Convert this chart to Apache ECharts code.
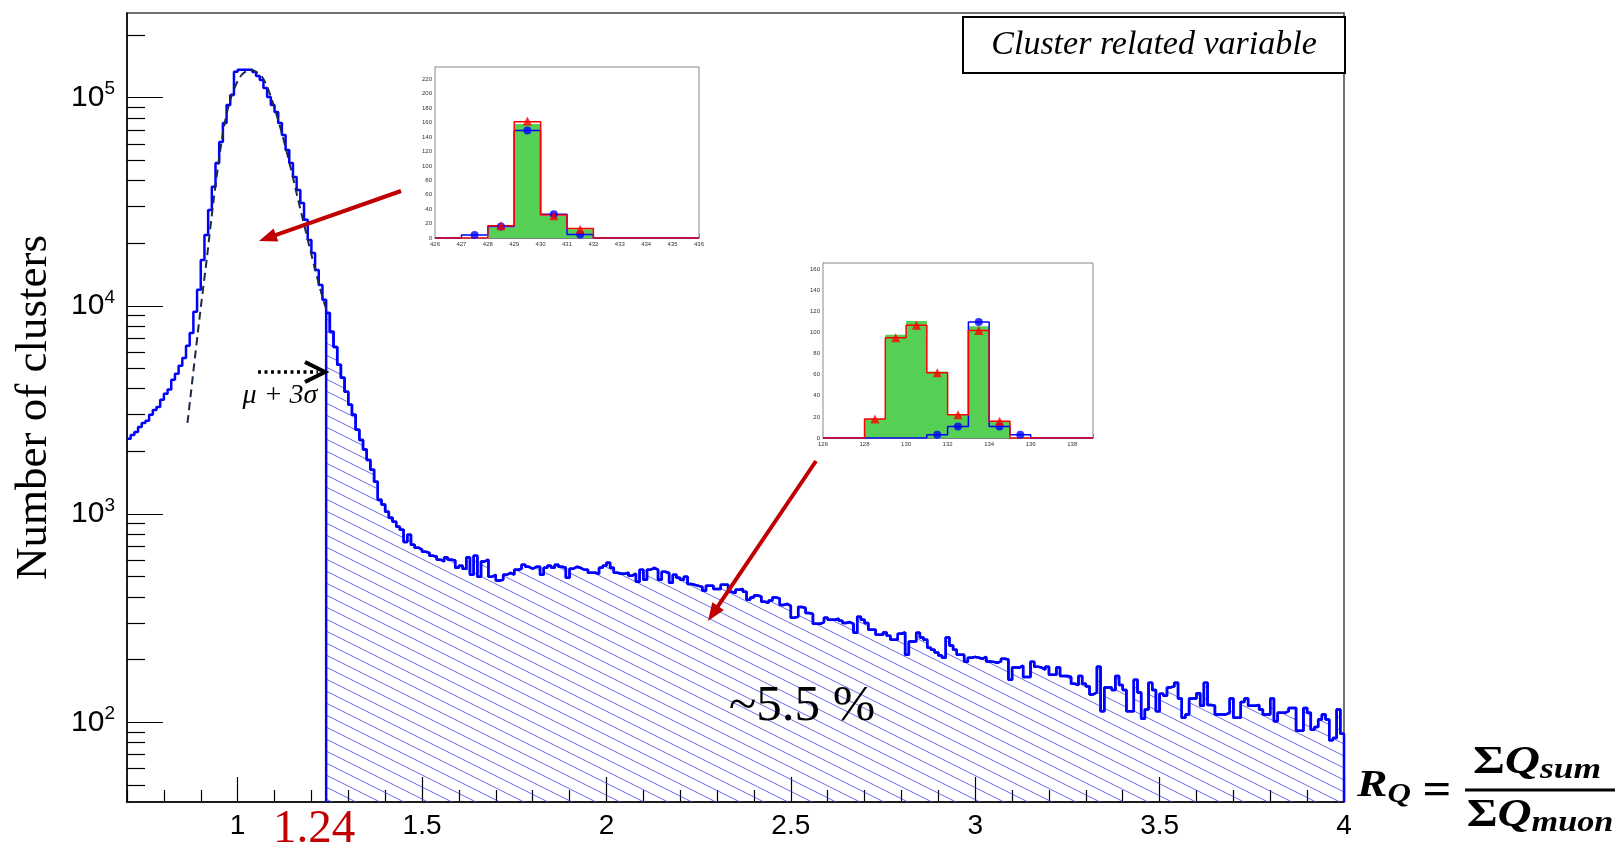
<!DOCTYPE html>
<html><head><meta charset="utf-8">
<script src="https://cdn.jsdelivr.net/npm/echarts@6/dist/echarts.min.js"></script>
<style>html,body{margin:0;padding:0;background:#fff}#c{width:1619px;height:848px}</style>
</head><body><div id="c"></div><script>
// ---------- DATA ----------
const binStart = 0.70;
const binWidth = 0.01;
// Counts per bin (0.70 .. 4.00, width 0.01)
const counts = [
2300,2400,2480,2620,2740,2810,3000,3160,3270,3540,
3780,3960,4420,4720,5160,5620,6430,7410,9360,11950,
16600,21900,28900,37300,48600,61200,75600,92300,103000,133000,
136000,136000,136000,136000,132800,127000,121600,111300,100800,92300,
85400,75600,66200,56100,48600,41600,36000,31200,25900,20700,
17960,14880,12610,10690,9250,7500,6350,5210,4510,3870,
3350,3000,2540,2270,2040,1820,1630,1430,1170,1110,
1026,960,919,869,841,734,796,713,689,675,
659,651,631,624,604,592,618,604,598,552,
565,546,618,511,631,500,592,604,500,511,
479,484,511,522,511,540,546,571,558,546,
558,558,511,552,565,552,571,558,552,495,
546,558,552,540,540,522,522,517,552,565,
584,552,522,517,517,522,506,517,473,540,
484,540,552,540,484,528,522,468,511,495,
484,500,462,457,452,447,428,452,452,437,
437,457,457,423,418,433,437,423,388,397,
406,402,379,375,384,397,393,366,370,362,
318,321,358,354,335,331,297,297,303,318,
311,311,314,307,300,303,297,269,321,311,
300,278,278,263,263,270,260,249,249,266,
270,211,244,244,269,255,249,228,223,216,
209,204,255,234,223,211,211,195,204,206,
204,202,206,196,195,193,196,202,200,160,
183,183,187,165,165,195,185,183,179,185,
169,169,183,167,167,165,153,151,167,153,
149,136,139,185,113,147,147,143,167,151,
143,113,113,160,139,104,115,155,143,113,
137,134,147,149,155,130,105,109,130,130,
138,120,155,121,120,109,109,109,111,130,
105,105,125,130,120,120,121,115,109,109,
130,101,111,111,113,117,117,91,91,117,
111,92,95,103,109,103,82,84,115,88
];
// Fit curve (dashed)
const fitX = [0.864,0.898,0.917,0.935,0.960,0.980,1.007,1.034,1.066,1.093,1.120,1.143,1.164,1.186,1.208,1.232,1.243];
const fitY = [2740,9160,17200,32300,67400,97500,126000,136000,126000,97500,67400,46700,32300,22300,15450,10700,9400];
const cutValue = 1.24;
const xTickValues = [1, 1.5, 2, 2.5, 3, 3.5, 4];
const yTickValues = [100, 1000, 10000, 100000];
const xMin = 0.7, xMax = 4, yMin = 41.4, yMax = 255000;

// Inset 1
const in1Edges = [426,427,428,429,430,431,432,433,434,435,436];
const in1Green = [0,0,15,158,31,12,0,0,0,0];
const in1Blue  = [0,4,16,149,33,5,0,0,0,0];
const in1Red   = [0,0,17,161,32,13,0,0,0,0];
const in1DotX  = [427.5,428.5,429.5,430.5,431.5];
const in1DotY  = [4,16,149,33,5];
const in1TriX  = [428.5,429.5,430.5,431.5];
const in1TriY  = [17,162,31,12];
// Inset 2
const in2Edges = [126,127,128,129,130,131,132,133,134,135,136,137,138,139];
const in2Green = [0,0,18,98,111,63,22,106,16,0,0,0,0];
const in2Blue  = [0,0,0,0,0,3,11,110,11,3,0,0,0];
const in2Red   = [0,0,18,95,107,62,22,102,16,0,0,0,0];
const in2DotX  = [131.5,132.5,133.5,134.5,135.5];
const in2DotY  = [3,11,110,11,3];
const in2TriX  = [128.5,129.5,130.5,131.5,132.5,133.5,134.5];
const in2TriY  = [18,95,107,62,22,102,16];

// ---------- BUILD ----------
const edges = [];
for (let i = 0; i <= counts.length; i++) edges.push(+(binStart + binWidth * i).toFixed(2));
const histData = edges.map((x, i) => [x, counts[Math.min(i, counts.length - 1)]]);
const cutIdx = Math.round((cutValue - binStart) / binWidth);
const hatchData = [[cutValue, yMin]].concat(histData.slice(cutIdx)).concat([[xMax, yMin]]);
const fitData = fitX.map((x, i) => [x, fitY[i]]);
const stepData = (ed, vals) => ed.map((x, i) => [x, vals[Math.min(i, vals.length - 1)]]);
const zip = (a, b) => a.map((x, i) => [x, b[i]]);

const minorX = [];
for (let k = 7; k <= 40; k++) if (k % 5 !== 0) minorX.push(k / 10);
const minorYlog = [];
for (let e = 1; e <= 5; e++) for (let k = 2; k <= 9; k++) {
  const v = k * Math.pow(10, e);
  if (v >= yMin && v <= yMax) minorYlog.push(Math.log10(v));
}

// hatch pattern
const tile = document.createElement('canvas');
tile.width = 24; tile.height = 12;
const g = tile.getContext('2d');
g.strokeStyle = 'rgba(60,60,225,0.75)';
g.lineWidth = 1;
[-12, 0, 12].forEach(off => { g.beginPath(); g.moveTo(-24, -12 + off); g.lineTo(48, 24 + off); g.stroke(); });

const SERIF = '"Liberation Serif", "DejaVu Serif", serif';
const SANS = '"Liberation Sans", Arial, sans-serif';
const BLUE = '#0000ff', RED = '#ff0000', GREEN = '#55d055', DARKRED = '#c00000';

function arrow(x1, y1, x2, y2, color, w, headLen, headW) {
  const dx = x2 - x1, dy = y2 - y1, L = Math.hypot(dx, dy), ux = dx / L, uy = dy / L;
  const bx = x2 - ux * headLen, by = y2 - uy * headLen, nx = -uy, ny = ux;
  return [
    {type: 'line', z: 100, shape: {x1, y1, x2: bx + ux * 2, y2: by + uy * 2}, style: {stroke: color, lineWidth: w}},
    {type: 'polygon', z: 100, shape: {points: [[x2, y2], [bx + nx * headW, by + ny * headW], [bx - nx * headW, by - ny * headW]]}, style: {fill: color}}
  ];
}
function txt(x, y, text, o, extra) {
  return Object.assign({type: 'text', x, y, z: 100, style: Object.assign({text, fill: '#000', align: 'center', verticalAlign: 'middle', textAlign: 'center', textVerticalAlign: 'middle'}, o)}, extra || {});
}
const mathTok = (size, lh, va, italic) => ({fontSize: size, lineHeight: lh, fontWeight: 'bold', fontStyle: italic ? 'italic' : 'normal', fontFamily: SERIF, verticalAlign: va, fill: '#000', color: '#000'});

const insetAxisX = (grid, min, max, interval, showMax) => ({
  type: 'value', gridIndex: grid, min, max, interval,
  axisLine: {onZero: false, lineStyle: {color: '#777', width: 1}},
  axisTick: {inside: true, length: 4, lineStyle: {color: '#666', width: 0.8}},
  minorTick: {show: true, splitNumber: 2, length: 2, lineStyle: {color: '#888', width: 0.6}},
  axisLabel: {fontSize: 6, color: '#333', margin: 3, showMaxLabel: showMax, fontFamily: SANS},
  splitLine: {show: false}
});
const insetAxisY = (grid, max) => ({
  type: 'value', gridIndex: grid, min: 0, max, interval: 20,
  axisLine: {lineStyle: {color: '#777', width: 1}},
  axisTick: {inside: true, length: 4, lineStyle: {color: '#666', width: 0.8}},
  minorTick: {show: true, splitNumber: 4, length: 2, lineStyle: {color: '#888', width: 0.6}},
  axisLabel: {fontSize: 6, color: '#333', margin: 3, showMaxLabel: false, fontFamily: SANS},
  splitLine: {show: false}
});
const stepLine = (xi, yi, data, color, w, z) => ({
  type: 'line', xAxisIndex: xi, yAxisIndex: yi, step: 'end', data, showSymbol: false, z,
  lineStyle: {color, width: w}, animation: false, silent: true
});
const areaStep = (xi, yi, data, color, z) => ({
  type: 'line', xAxisIndex: xi, yAxisIndex: yi, step: 'end', data, showSymbol: false, z,
  lineStyle: {width: 0}, areaStyle: {color, opacity: 1, origin: 'start'}, animation: false, silent: true
});
const markers = (xi, yi, data, symbol, size, color, z) => ({
  type: 'scatter', xAxisIndex: xi, yAxisIndex: yi, data, symbol, symbolSize: size, z,
  itemStyle: {color}, animation: false, silent: true
});

const chart = echarts.init(document.getElementById('c'), null, {renderer: 'canvas'});
const option = {
  animation: false,
  backgroundColor: '#fff',
  textStyle: {fontFamily: SANS},
  grid: [
    {left: 127, top: 13, width: 1217, height: 789, show: true, borderColor: '#444', borderWidth: 1.5, containLabel: false, outerBoundsMode: 'none'},
    {left: 435, top: 67, width: 264, height: 171, show: true, backgroundColor: '#fff', borderColor: '#888', borderWidth: 1, containLabel: false, outerBoundsMode: 'none', z: 5},
    {left: 823, top: 263, width: 270, height: 175, show: true, backgroundColor: '#fff', borderColor: '#888', borderWidth: 1, containLabel: false, outerBoundsMode: 'none', z: 5}
  ],
  xAxis: [
    {
      type: 'value', gridIndex: 0, min: xMin, max: xMax, position: 'bottom',
      axisLine: {onZero: false, lineStyle: {color: '#000', width: 1.5}},
      axisTick: {inside: true, length: 25, customValues: xTickValues, lineStyle: {color: '#000', width: 1.2}},
      axisLabel: {
        customValues: xTickValues.concat([cutValue]), margin: 10, color: '#000', fontSize: 28, fontFamily: SANS,
        formatter: v => Math.abs(v - cutValue) < 1e-9 ? '{red|1.24}' : '{n|' + v + '}',
        rich: {
          n: {fontSize: 28, fontFamily: SANS, color: '#000'},
          red: {fontSize: 47, lineHeight: 36, fontFamily: SERIF, color: DARKRED, padding: [0, 24, 0, 0]}
        }
      },
      splitLine: {show: false}
    },
    {
      type: 'value', gridIndex: 0, min: xMin, max: xMax, position: 'bottom',
      axisLine: {show: false},
      axisTick: {inside: true, length: 12, customValues: minorX, lineStyle: {color: '#000', width: 1.2}},
      axisLabel: {show: false}, splitLine: {show: false}
    },
    insetAxisX(1, 426, 436, 1, true),
    insetAxisX(2, 126, 139, 2, false)
  ],
  yAxis: [
    {
      type: 'log', logBase: 10, gridIndex: 0, min: yMin, max: yMax, position: 'left',
      name: 'Number of clusters', nameLocation: 'middle', nameRotate: 90, nameGap: 70,
      nameTextStyle: {fontFamily: SERIF, fontSize: 45, color: '#000'},
      axisLine: {lineStyle: {color: '#000', width: 1.5}},
      axisTick: {inside: true, length: 36, lineStyle: {color: '#000', width: 1.2}},
      axisLabel: {
        showMinLabel: false, showMaxLabel: false, margin: 12,
        formatter: v => {
          const e = Math.log10(v);
          if (Math.abs(e - Math.round(e)) > 1e-6) return '';
          return '{b|10}{s|' + Math.round(e) + '}';
        },
        rich: {
          b: {fontSize: 30, lineHeight: 36, fontFamily: SANS, color: '#000'},
          s: {fontSize: 19, lineHeight: 19, verticalAlign: 'top', fontFamily: SANS, color: '#000'}
        }
      },
      splitLine: {show: false}
    },
    {
      type: 'value', gridIndex: 0, min: Math.log10(yMin), max: Math.log10(yMax), position: 'left',
      axisLine: {show: false},
      axisTick: {inside: true, length: 18, customValues: minorYlog, lineStyle: {color: '#000', width: 1.2}},
      axisLabel: {show: false}, splitLine: {show: false}
    },
    insetAxisY(1, 237),
    insetAxisY(2, 166)
  ],
  series: [
    {
      type: 'line', xAxisIndex: 0, yAxisIndex: 0, step: 'end', data: hatchData, showSymbol: false, z: 2,
      lineStyle: {color: BLUE, width: 2.5}, areaStyle: {color: {image: tile, repeat: 'repeat'}, opacity: 1, origin: 'start'},
      animation: false, silent: true
    },
    {
      type: 'line', xAxisIndex: 0, yAxisIndex: 0, step: 'end', data: histData, showSymbol: false, z: 3,
      lineStyle: {color: BLUE, width: 2.5}, animation: false, silent: true
    },
    {
      type: 'line', xAxisIndex: 0, yAxisIndex: 0, data: fitData, showSymbol: false, smooth: 0.3, z: 4,
      lineStyle: {color: '#1c2a48', width: 2, type: [8, 5]}, animation: false, silent: true
    },
    areaStep(2, 2, stepData(in1Edges, in1Green), GREEN, 10),
    stepLine(2, 2, stepData(in1Edges, in1Blue), BLUE, 1.5, 11),
    stepLine(2, 2, stepData(in1Edges, in1Red), RED, 1.5, 12),
    markers(2, 2, zip(in1DotX, in1DotY), 'circle', 8, BLUE, 13),
    markers(2, 2, zip(in1TriX, in1TriY), 'triangle', 9, RED, 14),
    areaStep(3, 3, stepData(in2Edges, in2Green), GREEN, 10),
    stepLine(3, 3, stepData(in2Edges, in2Blue), BLUE, 1.5, 11),
    stepLine(3, 3, stepData(in2Edges, in2Red), RED, 1.5, 12),
    markers(3, 3, zip(in2DotX, in2DotY), 'circle', 8, BLUE, 13),
    markers(3, 3, zip(in2TriX, in2TriY), 'triangle', 9, RED, 14)
  ],
  graphic: [
    {type: 'rect', z: 100, shape: {x: 963, y: 17, width: 382, height: 56}, style: {fill: '#fff', stroke: '#000', lineWidth: 2}},
    txt(1154, 45, 'Cluster related variable', {fontFamily: SERIF, fontSize: 34, fontStyle: 'italic'}),
    {type: 'line', z: 100, shape: {x1: 258, y1: 372, x2: 318, y2: 372}, style: {stroke: '#000', lineWidth: 3.5, lineDash: [3, 3.5]}},
    {type: 'polyline', z: 100, shape: {points: [[305, 362], [325, 372], [305, 382]]}, style: {stroke: '#000', lineWidth: 4, fill: null}},
    txt(280, 396, 'μ + 3σ', {fontFamily: SERIF, fontSize: 28, fontStyle: 'italic'}),
    ...arrow(401, 191, 259, 241, DARKRED, 4, 18, 7),
    ...arrow(816, 461, 708, 621, DARKRED, 4, 18, 7),
    txt(802, 707, '~5.5 %', {fontFamily: SERIF, fontSize: 51}),
    {type: 'text', z: 100, x: 1357, y: 767, scaleX: 1.2, style: {
      text: '{b|R}{s|Q}', align: 'left', verticalAlign: 'top', textAlign: 'left', textVerticalAlign: 'top',
      rich: {b: mathTok(38, 42, 'top', true), s: mathTok(27, 20, 'bottom', true)}}},
    txt(1437, 792, '=', {fontFamily: SERIF, fontSize: 46, fontWeight: 'bold'}, {scaleX: 1.1}),
    {type: 'text', z: 100, x: 1537, y: 785, scaleX: 1.22, style: {
      text: '{g|Σ}{b|Q}{s|sum}', align: 'center', verticalAlign: 'bottom', textAlign: 'center', textVerticalAlign: 'bottom',
      rich: {g: mathTok(40, 42, 'top', false), b: mathTok(40, 42, 'top', true), s: mathTok(29, 30, 'bottom', true)}}},
    {type: 'line', z: 100, shape: {x1: 1465, y1: 790, x2: 1615, y2: 790}, style: {stroke: '#000', lineWidth: 3}},
    {type: 'text', z: 100, x: 1540, y: 796, scaleX: 1.18, style: {
      text: '{g|Σ}{b|Q}{s|muon}', align: 'center', verticalAlign: 'top', textAlign: 'center', textVerticalAlign: 'top',
      rich: {g: mathTok(40, 42, 'top', false), b: mathTok(40, 42, 'top', true), s: mathTok(29, 18, 'bottom', true)}}}
  ]
};
chart.setOption(option);
</script></body></html>
